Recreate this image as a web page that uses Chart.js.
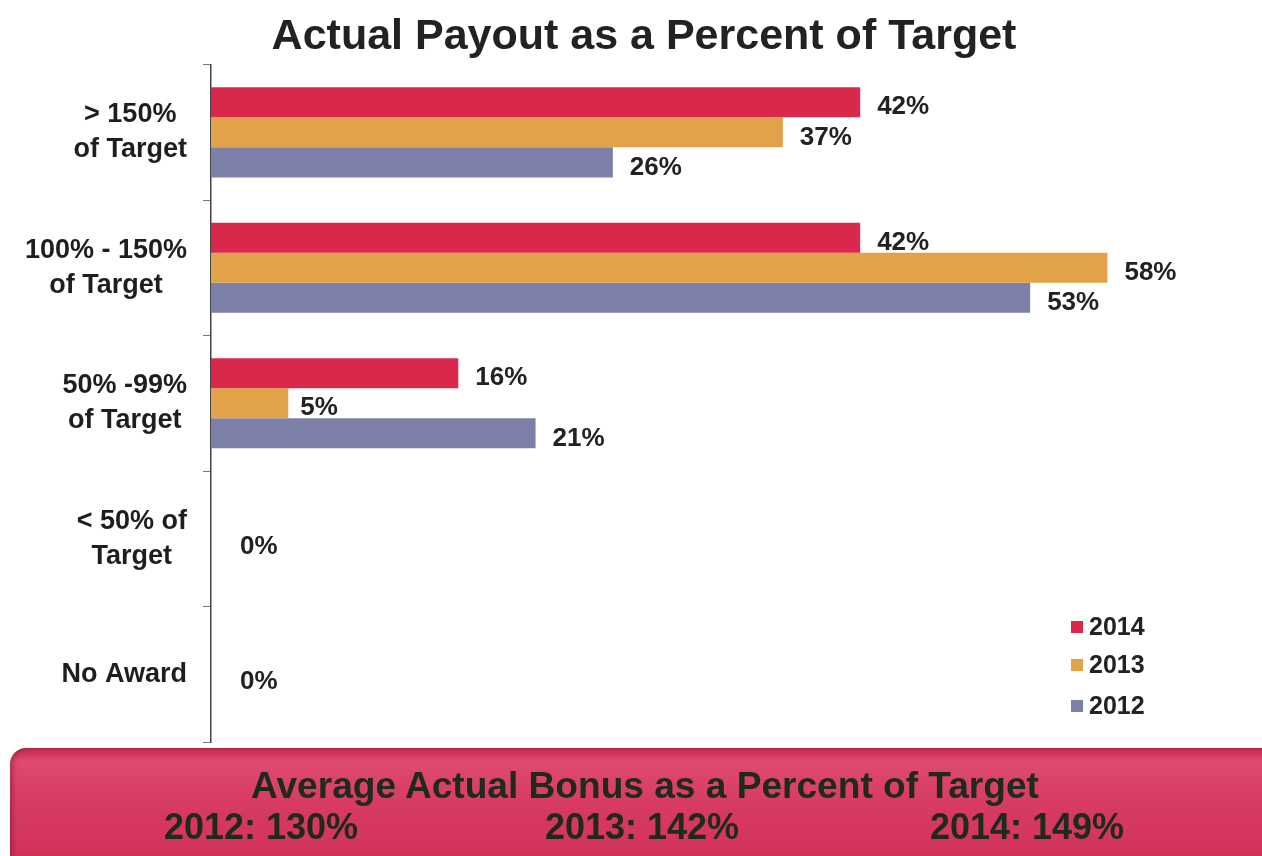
<!DOCTYPE html>
<html>
<head>
<meta charset="utf-8">
<title>Actual Payout as a Percent of Target</title>
<script src="https://cdn.jsdelivr.net/npm/chart.js@4/dist/chart.umd.min.js"></script>
<style>
  html, body { margin: 0; padding: 0; background: #fff; }
  body { width: 1262px; height: 856px; position: relative; overflow: hidden; font-family: "Liberation Sans", Arial, sans-serif; }
  #wrap { position: absolute; left: 0; top: 0; width: 1262px; height: 750px; }
  #banner {
    position: absolute; left: 10px; top: 748px; width: 1290px; height: 130px;
    border-radius: 16px;
    background: linear-gradient(to bottom, #c8284f 0%, #de4a70 10%, #d83c63 40%, #d2335a 80%, #bb2145 100%);
    box-shadow: inset 3px 0 4px rgba(90, 10, 30, 0.35);
    color: #1f2a1f; font-weight: bold; font-size: 36px;
  }
  #banner .head { position: absolute; left: 0; width: 1270px; top: 17px; text-align: center; transform: scaleX(1.03); }
  #banner .avg { position: absolute; top: 58px; width: 240px; text-align: center; }
</style>
</head>
<body>
<div id="wrap"><canvas id="payoutChart"></canvas></div>
<div id="banner">
  <div class="head">Average Actual Bonus as a Percent of Target</div>
</div>
<script>
// payout buckets, one bar per year in each bucket
const categories = [
  ['> 150%', 'of Target'],
  ['100% - 150%', 'of Target'],
  ['50% -99%', 'of Target'],
  ['< 50% of', 'Target'],
  ['No Award']
];
const years = ['2014', '2013', '2012'];
const payout2014 = [42, 42, 16, 0, 0];
const payout2013 = [37, 58, 5, 0, 0];
const payout2012 = [26, 53, 21, 0, 0];
const yearColors = ['#d9284c', '#e2a24a', '#7c80a8'];

// average bonus shown in the footer band
const avgYears = ['2012', '2013', '2014'];
const avgBonus = [130, 142, 149];

const FONT = '"Liberation Sans", Arial, sans-serif';

// footer averages
const banner = document.getElementById('banner');
const avgCenters = [251, 632, 1017];
avgYears.forEach((y, i) => {
  const d = document.createElement('div');
  d.className = 'avg';
  d.style.left = (avgCenters[i] - 120) + 'px';
  d.textContent = y + ': ' + avgBonus[i] + '%';
  banner.appendChild(d);
});

// bucket names: each block right-aligned to the axis, lines centred inside it
const bucketLabels = {
  id: 'bucketLabels',
  afterDraw(chart) {
    const ctx = chart.ctx;
    const scale = chart.scales.y;
    const lineH = 35;
    const right = scale.right - 24;
    ctx.save();
    ctx.font = 'bold 27px ' + FONT;
    ctx.fillStyle = '#1e1e1e';
    ctx.textAlign = 'center';
    ctx.textBaseline = 'middle';
    chart.data.labels.forEach((lines, i) => {
      const yc = scale.getPixelForValue(i);
      const w = Math.max(...lines.map(l => ctx.measureText(l).width));
      const xc = right - w / 2;
      const y0 = yc - (lines.length - 1) * lineH / 2;
      lines.forEach((l, k) => ctx.fillText(l, xc, y0 + k * lineH));
    });
    ctx.restore();
  }
};

// percent labels at the end of each bar; empty buckets get one label
const valueLabels = {
  id: 'valueLabels',
  afterDatasetsDraw(chart) {
    const ctx = chart.ctx;
    ctx.save();
    ctx.font = 'bold 26px ' + FONT;
    ctx.fillStyle = '#222';
    ctx.textAlign = 'left';
    ctx.textBaseline = 'middle';
    chart.data.datasets.forEach((ds, i) => {
      const meta = chart.getDatasetMeta(i);
      meta.data.forEach((bar, j) => {
        const v = ds.data[j];
        if (v === 0) {
          if (i !== 1) return;
          ctx.fillText(v + '%', bar.x + 29, bar.y + 8);
          return;
        }
        const gap = v < 10 ? 12 : 17;
        ctx.fillText(v + '%', bar.x + gap, bar.y + 5);
      });
    });
    ctx.restore();
  }
};

// stacked legend in the lower right corner
const cornerLegend = {
  id: 'cornerLegend',
  afterDraw(chart) {
    const ctx = chart.ctx;
    const rows = [627, 665, 706];
    ctx.save();
    ctx.font = 'bold 25px ' + FONT;
    ctx.textBaseline = 'middle';
    ctx.textAlign = 'left';
    chart.data.datasets.forEach((ds, i) => {
      ctx.fillStyle = ds.backgroundColor;
      ctx.fillRect(1071, rows[i] - 6, 12, 12);
      ctx.fillStyle = '#222';
      ctx.fillText(ds.label, 1089, rows[i] + 1);
    });
    ctx.restore();
  }
};

const ctx = document.getElementById('payoutChart').getContext('2d');
new Chart(ctx, {
  type: 'bar',
  data: {
    labels: categories,
    datasets: [
      { label: years[0], data: payout2014, backgroundColor: yearColors[0] },
      { label: years[1], data: payout2013, backgroundColor: yearColors[1] },
      { label: years[2], data: payout2012, backgroundColor: yearColors[2] }
    ]
  },
  options: {
    indexAxis: 'y',
    responsive: true,
    maintainAspectRatio: false,
    animation: false,
    layout: { padding: { left: 26, right: 0, top: 0, bottom: 8 } },
    datasets: {
      bar: { categoryPercentage: 0.665, barPercentage: 1.0 }
    },
    scales: {
      x: { display: false, min: 0, max: 68 },
      y: {
        afterFit(scale) {
          scale.width = 185;
          scale.paddingTop = 0;
          scale.paddingBottom = 0;
        },
        border: { display: true, color: '#444', width: 1.5 },
        grid: { drawOnChartArea: false, drawTicks: true, tickLength: 8, color: '#777', offset: true },
        ticks: { display: false }
      }
    },
    plugins: {
      legend: { display: false },
      tooltip: { enabled: false },
      title: {
        display: true,
        text: 'Actual Payout as a Percent of Target',
        color: '#222',
        font: { family: FONT, size: 43, weight: 'bold', lineHeight: 1.2 },
        padding: { top: 11, bottom: 2 }
      }
    }
  },
  plugins: [bucketLabels, valueLabels, cornerLegend]
});
</script>
</body>
</html>
